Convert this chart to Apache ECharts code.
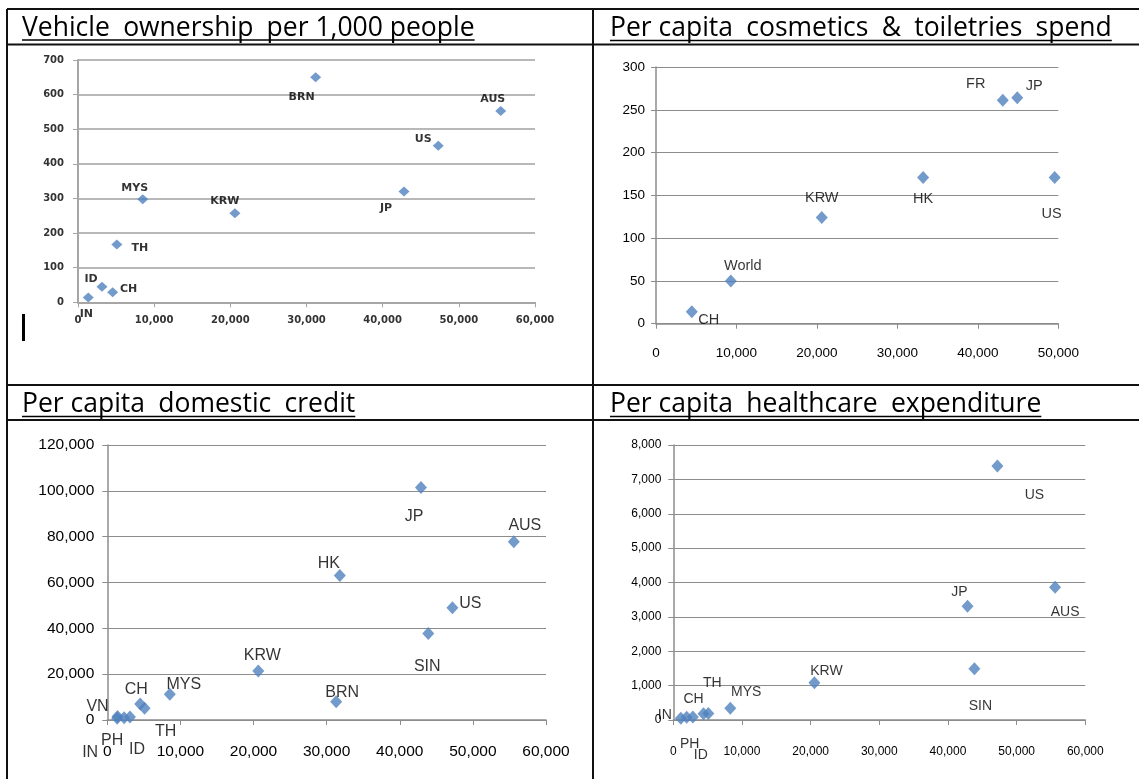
<!DOCTYPE html>
<html>
<head>
<meta charset="utf-8">
<script src="https://cdn.jsdelivr.net/npm/echarts@6/dist/echarts.min.js"></script>
<style>
  html, body { margin: 0; padding: 0; background: #ffffff; }
  #chart { width: 1139px; height: 779px; }
</style>
</head>
<body>
<div id="chart"></div>
<script>
// ---- Vehicle ownership per 1,000 people vs GDP per capita (US$) ----
const vehicleCountries = ['BRN', 'AUS', 'US', 'JP', 'MYS', 'KRW', 'TH', 'ID', 'CH', 'IN'];
const vehicleGdp       = [31200, 55500, 47300, 42800, 8500, 20600, 5100, 3150, 4550, 1350];
const vehicleOwnership = [650, 553, 452, 320, 298, 257, 167, 45, 29, 14];
const vehicleXTicks = [0, 10000, 20000, 30000, 40000, 50000, 60000];
const vehicleYTicks = [0, 100, 200, 300, 400, 500, 600, 700];

// ---- Per capita cosmetics & toiletries spend ----
const cosmeticsCountries = ['FR', 'JP', 'HK', 'US', 'KRW', 'World', 'CH'];
const cosmeticsGdp       = [43100, 44900, 33200, 49550, 20600, 9300, 4450];
const cosmeticsSpend     = [261, 264, 171, 171, 124, 50, 14];
const cosmeticsXTicks = [0, 10000, 20000, 30000, 40000, 50000];
const cosmeticsYTicks = [0, 50, 100, 150, 200, 250, 300];

// ---- Per capita domestic credit ----
const creditCountries = ['JP', 'AUS', 'HK', 'US', 'SIN', 'BRN', 'KRW', 'MYS', 'CH', 'TH', 'VN', 'PH', 'IN', 'ID'];
const creditGdp       = [42900, 55600, 31800, 47200, 43900, 31300, 20650, 8550, 4500, 5100, 1400, 2300, 1350, 3100];
const creditPerCapita = [101500, 77800, 63100, 49000, 37700, 8000, 21400, 11200, 7000, 5100, 1500, 1000, 800, 1300];
const creditXTicks = [0, 10000, 20000, 30000, 40000, 50000, 60000];
const creditYTicks = [0, 20000, 40000, 60000, 80000, 100000, 120000];

// ---- Per capita healthcare expenditure ----
const healthCountries = ['US', 'AUS', 'JP', 'SIN', 'KRW', 'MYS', 'TH', 'CH', 'IN', 'PH', 'ID'];
const healthGdp       = [47200, 55600, 42850, 43850, 20550, 8300, 5100, 4400, 1100, 1950, 2850];
const healthSpend     = [7390, 3860, 3310, 1490, 1085, 340, 190, 180, 50, 80, 90];
const healthXTicks = [0, 10000, 20000, 30000, 40000, 50000, 60000];
const healthYTicks = [0, 1000, 2000, 3000, 4000, 5000, 6000, 7000, 8000];

// Where each country's label sits relative to its marker (pixels)
const vehicleLabelShift = { BRN: [-14, 20], AUS: [-8, -12], US: [-15, -7], JP: [-18, 17], MYS: [-8, -11],
  KRW: [-10, -12], TH: [23, 4], ID: [-11, -8], CH: [16, -3], IN: [-2, 17] };
const cosmeticsLabelShift = { FR: [-27, -16], JP: [17, -12], HK: [0, 22], US: [-3, 37], KRW: [0, -20],
  World: [12, -15], CH: [17, 8] };
const creditLabelShift = { JP: [-7, 29], AUS: [11, -16], HK: [-11, -12], US: [18, -4], SIN: [-1, 33],
  BRN: [6, -9], KRW: [4, -15], MYS: [14, -10], CH: [-4, -14], TH: [21, 23], VN: [-20, -10],
  PH: [-12, 23], IN: [-27, 34], ID: [7, 33] };
const healthLabelShift = { US: [37, 29], AUS: [10, 25], JP: [-8, -14], SIN: [6, 37], KRW: [12, -12],
  MYS: [16, -16], TH: [4, -30], CH: [-10, -15], IN: [-16, -3], PH: [3, 27], ID: [8, 38] };

const BLUE = '#4F81BD';
const BODY = '"Liberation Sans", Arial, sans-serif';
const WIDE = '"DejaVu Sans", Verdana, sans-serif';
const TITLE_FONT = '"Open Sans", "Liberation Sans", sans-serif';

const fmt = v => Number(v).toLocaleString('en-US');

function makeAxes(idx, xTicks, yTicks, s) {
  const xa = {
    type: 'value', gridIndex: idx,
    min: xTicks[0], max: xTicks[xTicks.length - 1], interval: xTicks[1] - xTicks[0],
    axisLine: { show: true, lineStyle: { color: s.axisColor, width: s.axisWidth } },
    axisTick: { show: true, inside: false, length: 5, lineStyle: { color: s.axisColor, width: 1 } },
    splitLine: { show: false },
    axisLabel: { margin: s.xMargin, color: s.tickColor, fontFamily: s.tickFont, fontSize: s.tickSize,
      fontWeight: s.tickWeight, formatter: fmt }
  };
  const ya = {
    type: 'value', gridIndex: idx,
    min: yTicks[0], max: yTicks[yTicks.length - 1], interval: yTicks[1] - yTicks[0],
    axisLine: { show: true, lineStyle: { color: s.axisColor, width: s.axisWidth } },
    axisTick: { show: true, inside: false, length: 5, lineStyle: { color: s.axisColor, width: 1 } },
    splitLine: { show: true, lineStyle: { color: s.gridColor, width: s.gridWidth } },
    axisLabel: { margin: s.yMargin, color: s.tickColor, fontFamily: s.tickFont, fontSize: s.tickSize,
      fontWeight: s.tickWeight, formatter: fmt }
  };
  return [xa, ya];
}

function makeSeries(idx, names, xs, ys, shift, s) {
  return {
    type: 'scatter', xAxisIndex: idx, yAxisIndex: idx,
    symbol: 'diamond', symbolSize: s.marker,
    itemStyle: { color: BLUE },
    label: { show: true, position: 'inside', formatter: '{b}', color: '#000',
      fontFamily: s.labelFont, fontSize: s.labelSize, fontWeight: s.labelWeight },
    emphasis: { disabled: true },
    data: names.map((n, k) => ({ name: n, value: [xs[k], ys[k]], label: { offset: shift[n] } }))
  };
}

const styleVehicle = { axisColor: '#a6a6a6', axisWidth: 2, gridColor: '#a0a0a0', gridWidth: 1.5,
  tickColor: '#333', tickFont: WIDE, tickSize: 10, tickWeight: 'bold', xMargin: 13, yMargin: 14,
  labelFont: WIDE, labelSize: 11, labelWeight: 'bold', marker: [11, 10] };
const styleCosmetics = { axisColor: '#8c8c8c', axisWidth: 1.5, gridColor: '#8c8c8c', gridWidth: 1,
  tickColor: '#000', tickFont: BODY, tickSize: 13.5, tickWeight: 'normal', xMargin: 23, yMargin: 11,
  labelFont: BODY, labelSize: 14.5, labelWeight: 'normal', marker: [12, 13] };
const styleCredit = { axisColor: '#8c8c8c', axisWidth: 1.5, gridColor: '#8c8c8c', gridWidth: 1,
  tickColor: '#000', tickFont: BODY, tickSize: 15.5, tickWeight: 'normal', xMargin: 24, yMargin: 13,
  labelFont: BODY, labelSize: 16, labelWeight: 'normal', marker: [12, 13] };
const styleHealth = { axisColor: '#8c8c8c', axisWidth: 1.5, gridColor: '#8c8c8c', gridWidth: 1,
  tickColor: '#000', tickFont: BODY, tickSize: 12, tickWeight: 'normal', xMargin: 26, yMargin: 12,
  labelFont: BODY, labelSize: 14, labelWeight: 'normal', marker: [12, 13] };

const a1 = makeAxes(0, vehicleXTicks, vehicleYTicks, styleVehicle);
const a2 = makeAxes(1, cosmeticsXTicks, cosmeticsYTicks, styleCosmetics);
const a3 = makeAxes(2, creditXTicks, creditYTicks, styleCredit);
const a4 = makeAxes(3, healthXTicks, healthYTicks, styleHealth);

// Panel titles, underlined, and the table frame around the four charts
const titles = [
  { text: 'Vehicle\u2002ownership\u2002per 1,000 people', x: 22, top: 14.5, uy: 40 },
  { text: 'Per capita\u2002cosmetics\u2002&\u2002toiletries\u2002spend', x: 610, top: 14.5, uy: 40.5 },
  { text: 'Per capita\u2002domestic\u2002credit', x: 22, top: 391, uy: 416.5 },
  { text: 'Per capita\u2002healthcare\u2002expenditure', x: 610, top: 391, uy: 416.5 }
];
const TITLE_SIZE = 26.5;
const measureCtx = document.createElement('canvas').getContext('2d');
measureCtx.font = TITLE_SIZE + 'px ' + TITLE_FONT;

const graphics = [];
titles.forEach(t => {
  const w = measureCtx.measureText(t.text).width;
  graphics.push({ type: 'text', left: t.x, top: t.top, z: 10,
    style: { text: t.text, fill: '#000', font: TITLE_SIZE + 'px ' + TITLE_FONT } });
  graphics.push({ type: 'line', z: 10, shape: { x1: t.x, y1: t.uy, x2: t.x + w, y2: t.uy },
    style: { stroke: '#000', lineWidth: 1.5 } });
});
const frame = [
  [7, 9, 1139, 9], [7, 9, 7, 779], [7, 44.5, 1139, 44.5],
  [593, 9, 593, 779], [7, 385, 1139, 385], [7, 420, 1139, 420]
];
frame.forEach(f => graphics.push({ type: 'line', z: 10,
  shape: { x1: f[0], y1: f[1], x2: f[2], y2: f[3] }, style: { stroke: '#111', lineWidth: 2 } }));
// text caret left in the first cell
graphics.push({ type: 'rect', z: 10, shape: { x: 22, y: 314, width: 3, height: 27 }, style: { fill: '#000' } });

const option = {
  animation: false,
  backgroundColor: '#ffffff',
  grid: [
    { left: 78, top: 60, width: 457, height: 242.3 },
    { left: 656, top: 67, width: 402.3, height: 256.7 },
    { left: 107.3, top: 445, width: 438.7, height: 275 },
    { left: 673.3, top: 445, width: 412, height: 275 }
  ],
  xAxis: [a1[0], a2[0], a3[0], a4[0]],
  yAxis: [a1[1], a2[1], a3[1], a4[1]],
  series: [
    makeSeries(0, vehicleCountries, vehicleGdp, vehicleOwnership, vehicleLabelShift, styleVehicle),
    makeSeries(1, cosmeticsCountries, cosmeticsGdp, cosmeticsSpend, cosmeticsLabelShift, styleCosmetics),
    makeSeries(2, creditCountries, creditGdp, creditPerCapita, creditLabelShift, styleCredit),
    makeSeries(3, healthCountries, healthGdp, healthSpend, healthLabelShift, styleHealth)
  ],
  graphic: graphics
};

const chart = echarts.init(document.getElementById('chart'), null, { renderer: 'canvas' });
chart.setOption(option);
</script>
</body>
</html>
